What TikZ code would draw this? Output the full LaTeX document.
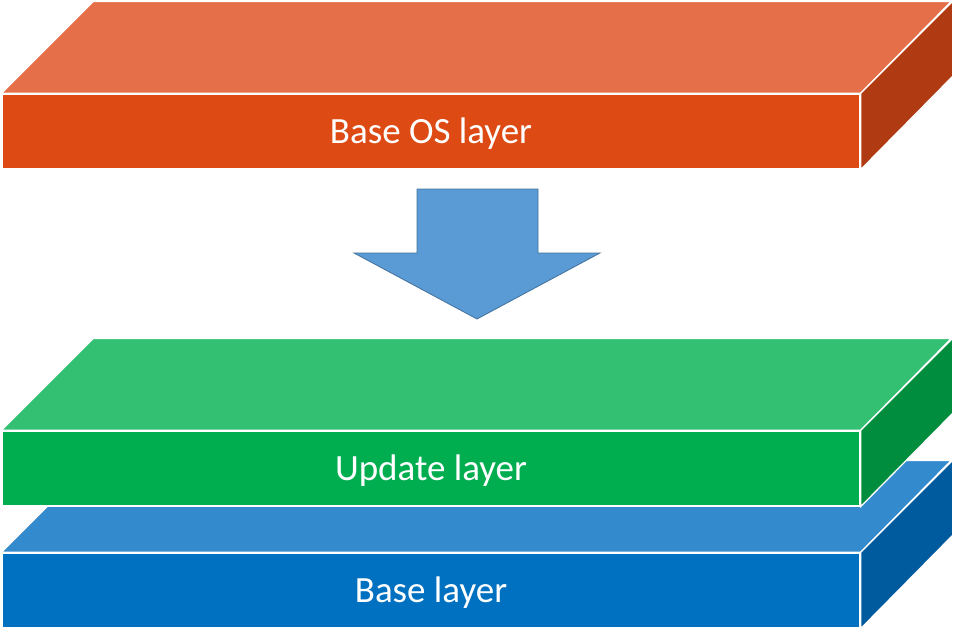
\documentclass[tikz,border=0pt]{standalone}
\usepackage{fontspec}
\setmainfont{Carlito}
\usepackage{tikz}
\usepackage{xcolor}
\usetikzlibrary{positioning,calc}

\definecolor{osfront}{RGB}{221,74,20}
\definecolor{ostop}{RGB}{228,111,72}
\definecolor{osside}{RGB}{176,58,17}
\definecolor{updfront}{RGB}{0,174,80}
\definecolor{updtop}{RGB}{51,192,114}
\definecolor{updside}{RGB}{0,142,62}
\definecolor{basefront}{RGB}{0,112,192}
\definecolor{basetop}{RGB}{51,138,204}
\definecolor{baseside}{RGB}{0,90,158}
\definecolor{arrowfill}{RGB}{91,155,213}
\definecolor{arrowline}{RGB}{65,113,156}

\begin{document}
\begin{tikzpicture}[x=1pt, y=-1pt,
          front/.style={rectangle, draw=white, line width=1.3pt, minimum width=858pt, minimum height=75pt, inner sep=0pt, text height=24pt, text depth=0pt, text=white, font=\fontsize{37}{44}\selectfont},
          face/.style={draw=white, line width=1.3pt, line join=miter},
          bigarrow/.style={fill=arrowfill, draw=arrowline, line width=0.8pt}
        ]
          \useasboundingbox (0,0) rectangle (955,637);

          % Base layer (behind the update layer)
          \node[front, fill=basefront] (base) at (431,590.5) {Base layer};
          \filldraw[face, fill=basetop] (base.north west) -- ++(92,-92) -- ++(858,0) -- (base.north east) -- cycle;
          \filldraw[face, fill=baseside] (base.north east) -- ++(92,-92) -- ++(0,75) -- (base.south east) -- cycle;

          % Update layer
          \node[front, fill=updfront] (upd) at (431,468.5) {Update layer};
          \filldraw[face, fill=updtop] (upd.north west) -- ++(92,-92) -- ++(858,0) -- (upd.north east) -- cycle;
          \filldraw[face, fill=updside] (upd.north east) -- ++(92,-92) -- ++(0,75) -- (upd.south east) -- cycle;

          % Base OS layer
          \node[front, fill=osfront] (os) at (431,131.5) {Base OS layer};
          \filldraw[face, fill=ostop] (os.north west) -- ++(92,-92) -- ++(858,0) -- (os.north east) -- cycle;
          \filldraw[face, fill=osside] (os.north east) -- ++(92,-92) -- ++(0,75) -- (os.south east) -- cycle;

          % Arrow from Base OS layer down to the update layer
          \filldraw[bigarrow] (417,189) -- (538,189) -- (538,253) -- (600,253) -- (477,319)
            -- (354,253) -- (417,253) -- cycle;

        \end{tikzpicture}
\end{document}
